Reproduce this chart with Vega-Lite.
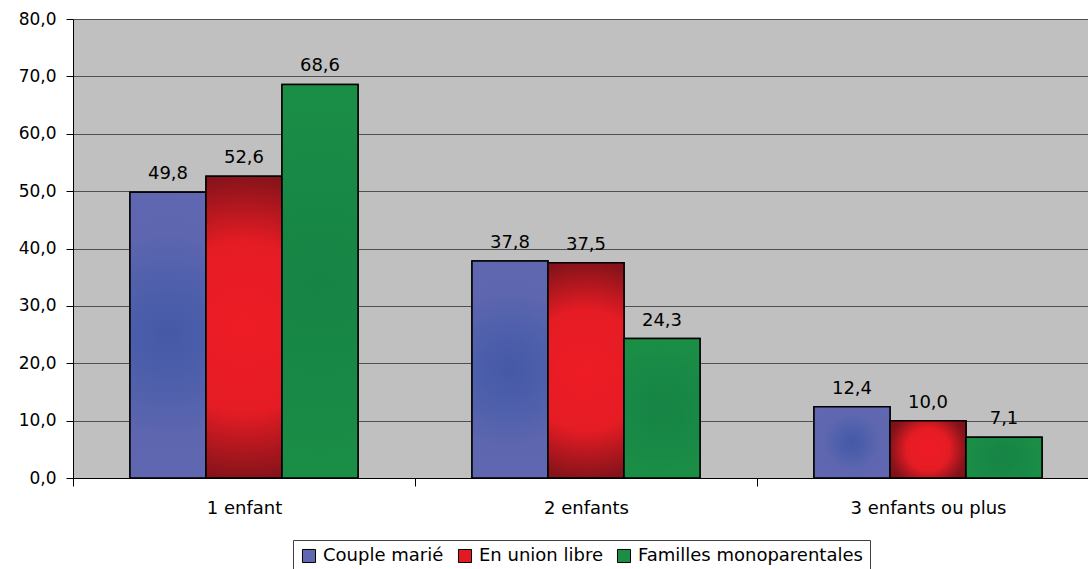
{
  "$schema": "https://vega.github.io/schema/vega-lite/v6.json",
  "width": 1026,
  "height": 459,
  "autosize": "none",
  "padding": {"left": 73, "top": 19, "right": 0, "bottom": 91},
  "background": "white",
  "config": {
    "locale": {"number": {"decimal": ",", "thousands": " ", "grouping": [3], "currency": ["", " €"]}},
    "font": "DejaVu Sans",
    "view": {"fill": "#C0C0C0", "stroke": "#808080", "strokeWidth": 1}
  },
  "data": {
    "values": [
      {"cat": "1 enfant", "serie": "Couple marié", "v": 49.8},
      {"cat": "1 enfant", "serie": "En union libre", "v": 52.6},
      {"cat": "1 enfant", "serie": "Familles monoparentales", "v": 68.6},
      {"cat": "2 enfants", "serie": "Couple marié", "v": 37.8},
      {"cat": "2 enfants", "serie": "En union libre", "v": 37.5},
      {"cat": "2 enfants", "serie": "Familles monoparentales", "v": 24.3},
      {"cat": "3 enfants ou plus", "serie": "Couple marié", "v": 12.4},
      {"cat": "3 enfants ou plus", "serie": "En union libre", "v": 10.0},
      {"cat": "3 enfants ou plus", "serie": "Familles monoparentales", "v": 7.1}
    ]
  },
  "encoding": {
    "x": {
      "field": "cat",
      "type": "nominal",
      "sort": ["1 enfant", "2 enfants", "3 enfants ou plus"],
      "scale": {"paddingInner": 0, "paddingOuter": 0},
      "axis": {
        "title": null,
        "tickBand": "extent",
        "tickSize": 8,
        "tickColor": "black",
        "domainColor": "black",
        "labelFontSize": 18,
        "labelColor": "black",
        "labelAngle": 0,
        "labelPadding": 13,
        "grid": false
      }
    },
    "xOffset": {
      "field": "serie",
      "type": "nominal",
      "sort": ["Couple marié", "En union libre", "Familles monoparentales"],
      "scale": {"paddingInner": 0, "paddingOuter": 0.75}
    },
    "y": {
      "field": "v",
      "type": "quantitative",
      "scale": {"domain": [0, 80], "nice": false},
      "axis": {
        "title": null,
        "values": [0, 10, 20, 30, 40, 50, 60, 70, 80],
        "format": ".1f",
        "grid": true,
        "gridColor": "#505050",
        "gridOpacity": 1,
        "tickColor": "black",
        "tickSize": 7,
        "domainColor": "black",
        "labelFontSize": 17,
        "labelColor": "black",
        "labelPadding": 10
      }
    }
  },
  "layer": [
    {
      "mark": {"type": "bar", "stroke": "black", "strokeWidth": 1.5},
      "encoding": {
        "color": {
          "field": "serie",
          "type": "nominal",
          "sort": ["Couple marié", "En union libre", "Familles monoparentales"],
          "scale": {
            "domain": ["Couple marié", "En union libre", "Familles monoparentales"],
            "range": ["#5F67B0", "#E31A22", "#1B8E45"]
          },
          "legend": {
            "title": null,
            "orient": "none",
            "legendX": 220,
            "legendY": 521,
            "direction": "horizontal",
            "strokeColor": "#404040",
            "fillColor": "white",
            "padding": 7,
            "symbolType": "square",
            "symbolSize": 170,
            "symbolStrokeColor": "black",
            "symbolStrokeWidth": 1,
            "symbolOpacity": 1,
            "labelFontSize": 18,
            "labelLimit": 400,
            "labelColor": "black",
            "labelOffset": 5,
            "columnPadding": 12
          }
        }
      }
    },
    {
      "transform": [{"filter": "datum.serie === 'Couple marié'"}],
      "mark": {
        "type": "bar",
        "stroke": "black",
        "strokeWidth": 1.5,
        "color": {
          "gradient": "radial",
          "x1": 0.5, "y1": 0.5, "r1": 0,
          "x2": 0.5, "y2": 0.5, "r2": 0.7,
          "stops": [
            {"offset": 0, "color": "#4459A7"},
            {"offset": 0.25, "color": "#4E5FAB"},
            {"offset": 0.5, "color": "#5D66AF"},
            {"offset": 1, "color": "#6068B1"}
          ]
        }
      }
    },
    {
      "transform": [{"filter": "datum.serie === 'En union libre'"}],
      "mark": {
        "type": "bar",
        "stroke": "black",
        "strokeWidth": 1.5,
        "color": {
          "gradient": "radial",
          "x1": 0.5, "y1": 0.5, "r1": 0,
          "x2": 0.5, "y2": 0.5, "r2": 0.7,
          "stops": [
            {"offset": 0, "color": "#EE1C25"},
            {"offset": 0.4, "color": "#E51C24"},
            {"offset": 0.72, "color": "#86131A"},
            {"offset": 1, "color": "#700D12"}
          ]
        }
      }
    },
    {
      "transform": [{"filter": "datum.serie === 'Familles monoparentales'"}],
      "mark": {
        "type": "bar",
        "stroke": "black",
        "strokeWidth": 1.5,
        "color": {
          "gradient": "radial",
          "x1": 0.5, "y1": 0.5, "r1": 0,
          "x2": 0.5, "y2": 0.5, "r2": 0.7,
          "stops": [
            {"offset": 0, "color": "#168445"},
            {"offset": 0.4, "color": "#188946"},
            {"offset": 0.7, "color": "#1B8E46"},
            {"offset": 1, "color": "#1B8E46"}
          ]
        }
      }
    },
    {
      "mark": {"type": "text", "baseline": "alphabetic", "dy": -13, "fontSize": 18, "color": "black"},
      "encoding": {"text": {"field": "v", "type": "quantitative", "format": ".1f"}}
    }
  ]
}
